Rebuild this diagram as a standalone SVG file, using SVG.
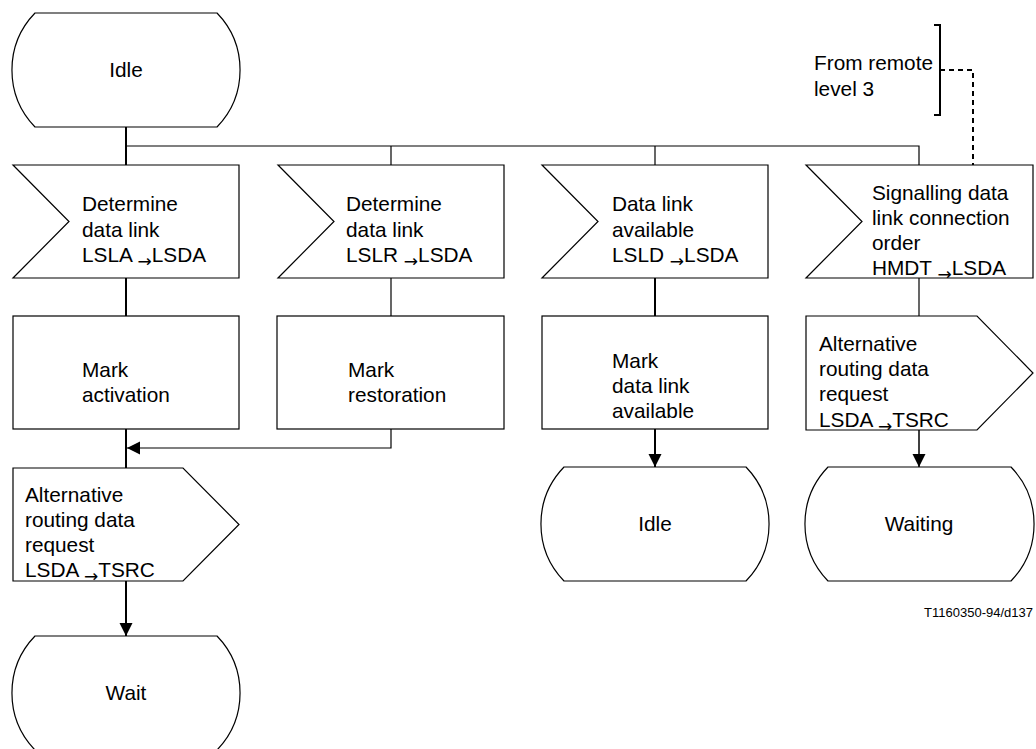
<svg xmlns="http://www.w3.org/2000/svg" width="1036" height="749" viewBox="0 0 1036 749">
<style>
.s{fill:#fff;stroke:#000;stroke-width:1.2}
.t{font-family:"Liberation Sans",Arial,sans-serif;font-size:20.8px;fill:#000}
.c{text-anchor:middle}
.ar{font-family:"DejaVu Sans",sans-serif;font-size:17px}
.l{fill:none;stroke:#000;stroke-width:1.2}
.lt{fill:none;stroke:#000;stroke-width:2}
</style>
<defs>
<marker id="ah" markerWidth="14" markerHeight="14" refX="13" refY="6.5" orient="auto" markerUnits="userSpaceOnUse">
<path d="M0,0 L13,6.5 L0,13 Z" fill="#000"/>
</marker>
</defs>
<rect width="1036" height="749" fill="#fff"/>

<g id="connectors">
<path class="lt" d="M126,127 V165"/>
<path class="l" d="M126,146 H919 V165"/>
<path class="l" d="M391,146 V165"/>
<path class="l" d="M655,146 V165"/>
<path class="lt" d="M126,278 V316"/>
<path class="l" d="M391,278 V316"/>
<path class="lt" d="M655,278 V316"/>
<path class="l" d="M919,278 V316"/>
<path class="lt" d="M126,429 V468"/>
<path class="l" d="M391,429 V448 H127" marker-end="url(#ah)"/>
<path class="lt" d="M126,581 V636" marker-end="url(#ah)"/>
<path class="lt" d="M655,429 V467" marker-end="url(#ah)"/>
<path class="l" d="M919,430 V467" marker-end="url(#ah)" style="stroke-width:1.5"/>
<path d="M940,70 H973 V165" fill="none" stroke="#000" stroke-width="2" stroke-dasharray="5,4"/>
</g>

<g id="idle-top">
<path class="s" d="M35,13 H217 A82,82 0 0 1 217,127 H35 A82,82 0 0 1 35,13 Z"/>
<text class="t c" x="126" y="77">Idle</text>
</g>

<g id="comment">
<path class="l" d="M934,25 H940 V115 H934" style="stroke-width:2"/>
<text class="t" x="814" y="70">From remote</text>
<text class="t" x="814" y="96">level 3</text>
</g>

<g id="in1">
<path class="s" d="M13,165 H239 V278 H13 L69,221.5 Z"/>
<text class="t" x="82" y="211">Determine</text>
<text class="t" x="82" y="237">data link</text>
<text class="t" x="82" y="262">LSLA <tspan class="ar" dy="5">→</tspan><tspan dy="-5">LSDA</tspan></text>
</g>

<g id="in2">
<path class="s" d="M278,165 H504 V278 H278 L334,221.5 Z"/>
<text class="t" x="346" y="211">Determine</text>
<text class="t" x="346" y="237">data link</text>
<text class="t" x="346" y="262">LSLR <tspan class="ar" dy="5">→</tspan><tspan dy="-5">LSDA</tspan></text>
</g>

<g id="in3">
<path class="s" d="M542,165 H768 V278 H542 L598,221.5 Z"/>
<text class="t" x="612" y="211">Data link</text>
<text class="t" x="612" y="237">available</text>
<text class="t" x="612" y="262">LSLD <tspan class="ar" dy="5">→</tspan><tspan dy="-5">LSDA</tspan></text>
</g>

<g id="in4">
<path class="s" d="M806,165 H1033 V278 H806 L862,221.5 Z"/>
<text class="t" x="872" y="200">Signalling data</text>
<text class="t" x="872" y="225">link connection</text>
<text class="t" x="872" y="250">order</text>
<text class="t" x="872" y="275">HMDT <tspan class="ar" dy="5">→</tspan><tspan dy="-5">LSDA</tspan></text>
</g>

<g id="task1">
<rect class="s" x="13" y="316" width="226" height="113"/>
<text class="t" x="82" y="377">Mark</text>
<text class="t" x="82" y="402">activation</text>
</g>

<g id="task2">
<rect class="s" x="277" y="316" width="227" height="113"/>
<text class="t" x="348" y="377">Mark</text>
<text class="t" x="348" y="402">restoration</text>
</g>

<g id="task3">
<rect class="s" x="542" y="316" width="226" height="113"/>
<text class="t" x="612" y="368">Mark</text>
<text class="t" x="612" y="393">data link</text>
<text class="t" x="612" y="418">available</text>
</g>

<g id="out1">
<path class="s" d="M13,468 H183 L239,524.5 L183,581 H13 Z"/>
<text class="t" x="25" y="502">Alternative</text>
<text class="t" x="25" y="527">routing data</text>
<text class="t" x="25" y="552">request</text>
<text class="t" x="25" y="577">LSDA <tspan class="ar" dy="5">→</tspan><tspan dy="-5">TSRC</tspan></text>
</g>

<g id="out4">
<path class="s" d="M806,316 H977 L1033,373 L977,430 H806 Z"/>
<text class="t" x="819" y="351">Alternative</text>
<text class="t" x="819" y="376">routing data</text>
<text class="t" x="819" y="401">request</text>
<text class="t" x="819" y="427">LSDA <tspan class="ar" dy="5">→</tspan><tspan dy="-5">TSRC</tspan></text>
</g>

<g id="idle3">
<path class="s" d="M564,467 H746 A82,82 0 0 1 746,581 H564 A82,82 0 0 1 564,467 Z"/>
<text class="t c" x="655" y="531">Idle</text>
</g>

<g id="waiting">
<path class="s" d="M828,467 H1011 A82,82 0 0 1 1011,581 H828 A82,82 0 0 1 828,467 Z"/>
<text class="t c" x="919" y="531">Waiting</text>
</g>

<g id="wait">
<path class="s" d="M35,636 H217 A82,82 0 0 1 217,750 H35 A82,82 0 0 1 35,636 Z"/>
<text class="t c" x="126" y="700">Wait</text>
</g>

<text id="ref" x="1033" y="617" style="font-family:'Liberation Sans',Arial,sans-serif;font-size:13px;text-anchor:end">T1160350-94/d137</text>
</svg>
